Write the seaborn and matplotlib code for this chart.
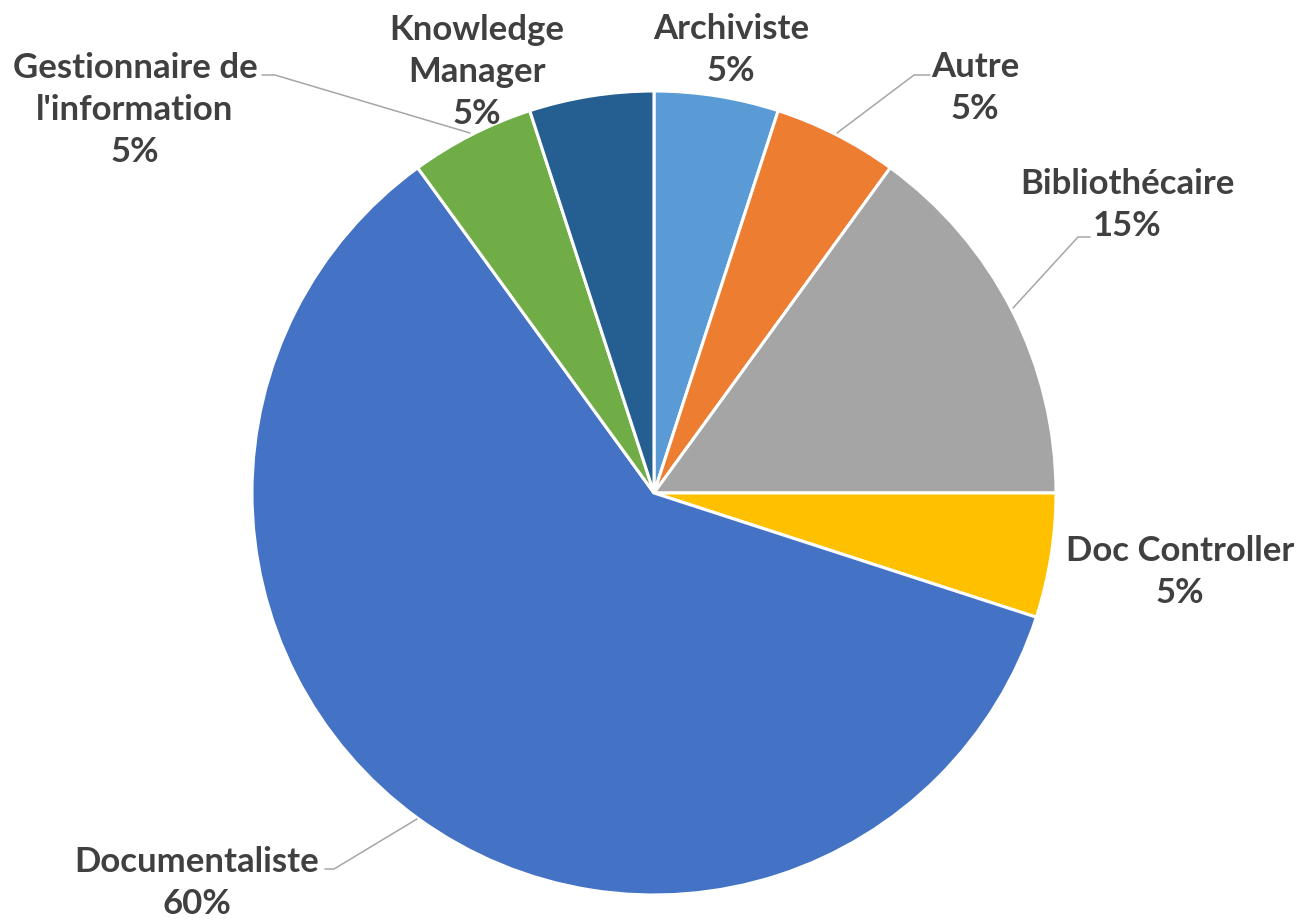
import matplotlib.pyplot as plt
import seaborn as sns

categories = ["Archiviste", "Autre", "Bibliothécaire", "Doc Controller",
              "Documentaliste", "Gestionnaire de l'information", "Knowledge Manager"]
shares = [5, 5, 15, 5, 60, 5, 5]
label_texts = ["Archiviste", "Autre", "Bibliothécaire", "Doc Controller",
               "Documentaliste", "Gestionnaire de\nl'information", "Knowledge\nManager"]
colors = ["#5B9BD5", "#ED7D31", "#A5A5A5", "#FFC000", "#4472C4", "#70AD47", "#255E91"]

sns.set_style("white")
plt.rcParams["font.family"] = ["Lato", "DejaVu Sans"]

W, H = 1297, 921
fig = plt.figure(figsize=(W / 100, H / 100), dpi=100)
ax = fig.add_axes([0, 0, 1, 1])


def fy(y):
    return H - y


ax.pie(shares, colors=colors, startangle=90, counterclock=False,
       center=(654, fy(493)), radius=402, frame=True,
       wedgeprops=dict(edgecolor="white", linewidth=2.2))
ax.set_xlim(0, W)
ax.set_ylim(0, H)
ax.set_aspect("equal")
ax.axis("off")

# label anchors (centre of text block) in pixel coordinates
label_pos = [(731, 50), (975, 88), (1127, 205), (1180, 572),
             (197, 883), (135, 110), (477, 72)]
for name, val, (x, y) in zip(label_texts, shares, label_pos):
    ax.text(x, fy(y), f"{name}\n{val}%", ha="center", va="center",
            fontsize=25, fontweight="bold", color="#404040", linespacing=1.4)

# leader lines
leaders = [
    [(262, 75), (275, 75), (470, 133)],
    [(930, 75), (914, 75), (837, 133)],
    [(1090, 237), (1078, 237), (1013, 308)],
    [(325, 869), (334, 869), (417, 819)],
]
for pts in leaders:
    xs = [p[0] for p in pts]
    ys = [fy(p[1]) for p in pts]
    ax.plot(xs, ys, color="#A6A6A6", linewidth=1.1, zorder=1)

fig.savefig("out.png", dpi=100)
